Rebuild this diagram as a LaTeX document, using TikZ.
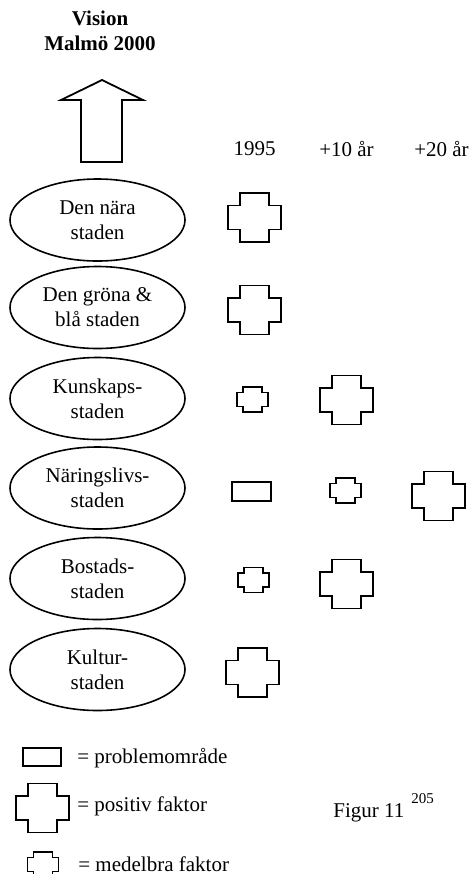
\documentclass[tikz,border=0pt]{standalone}
\usepackage{fontspec}
\setmainfont{Liberation Serif}
\usetikzlibrary{shapes.geometric}

\tikzset{
  stad/.style={shape=ellipse,draw=black,line width=0.8pt,inner sep=0pt,
    minimum width=87.5pt,minimum height=41pt,align=center},
  faktor/.style={draw=black,line width=0.9pt},
  problem/.style={shape=rectangle,draw=black,line width=0.9pt,inner sep=0pt,
    minimum width=19.5pt,minimum height=9.5pt},
  rubrik/.style={inner sep=0pt},
  % positiv faktor (stort kors)
  stor/.pic={\draw[faktor] (-14.5,-24.5) -- (14.5,-24.5) -- (14.5,-12) -- (26.5,-12)
    -- (26.5,12) -- (14.5,12) -- (14.5,24.5) -- (-14.5,24.5) -- (-14.5,12)
    -- (-26.5,12) -- (-26.5,-12) -- (-14.5,-12) -- cycle;},
  % medelbra faktor (litet kors)
  medel/.pic={\draw[faktor] (-9.5,-12.5) -- (9.5,-12.5) -- (9.5,-7) -- (15.5,-7)
    -- (15.5,7) -- (9.5,7) -- (9.5,12.5) -- (-9.5,12.5) -- (-9.5,7)
    -- (-15.5,7) -- (-15.5,-7) -- (-9.5,-7) -- cycle;}
}

\begin{document}
\begin{tikzpicture}[x=0.5pt,y=-0.5pt,font=\fontsize{10.5}{12.5}\selectfont]
	\useasboundingbox (0,0) rectangle (473,874);

	\node[rubrik,font=\fontsize{10.5}{12.5}\selectfont\bfseries,align=center] (vision) at (100,31) {Vision\\Malmö 2000};
	\draw[line width=0.9pt] (81,162) -- (81,100) -- (61,100) -- (102,80) -- (143,100) -- (122,100) -- (122,162) -- cycle;

	\node[rubrik] (y1995) at (254.5,149) {1995};
	\node[rubrik] (y2005) at (346.5,149) {+10 år};
	\node[rubrik] (y2015) at (441.5,149) {+20 år};

	\node[stad] (nara)    at (97.5,220)   {Den nära\\staden};
	\node[stad] (grona)   at (97.5,307.5) {Den gröna \&\\blå staden};
	\node[stad] (kunskap) at (97.5,398.5) {Kunskaps-\\staden};
	\node[stad] (naring)  at (97.5,488)   {Näringslivs-\\staden};
	\node[stad] (bostad)  at (97.5,578.5) {Bostads-\\staden};
	\node[stad] (kultur)  at (97.5,669.5) {Kultur-\\staden};

	\pic at (254.5,217.5) {stor};
	\pic at (254.5,310) {stor};
	\pic at (252.5,399.5) {medel};
	\pic at (346.5,400) {stor};
	\node[problem] (prob) at (251.5,491.5) {};
	\pic at (345.5,490.5) {medel};
	\pic at (438.5,496) {stor};
	\pic at (253.5,580) {medel};
	\pic at (346.5,584) {stor};
	\pic at (252.5,672.5) {stor};

	% teckenförklaring
	\node[problem,minimum width=19pt,minimum height=9pt] (lprob) at (42,757) {};
	\node[rubrik,anchor=west] (tprob) at (77,758) {= problemområde};
	\pic at (42.5,808) {stor};
	\node[rubrik,anchor=west] (tpos) at (77,806) {= positiv faktor};
	\pic at (43,864.5) {medel};
	\node[rubrik,anchor=west] (tmed) at (78,864) {= medelbra faktor};

	\node[rubrik,anchor=base west] (figur) at (333,817) {Figur 11};
	\node[rubrik,anchor=base west,font=\fontsize{7.5}{9}\selectfont] (fotnot) at (411,803) {205};
\end{tikzpicture}
\end{document}
